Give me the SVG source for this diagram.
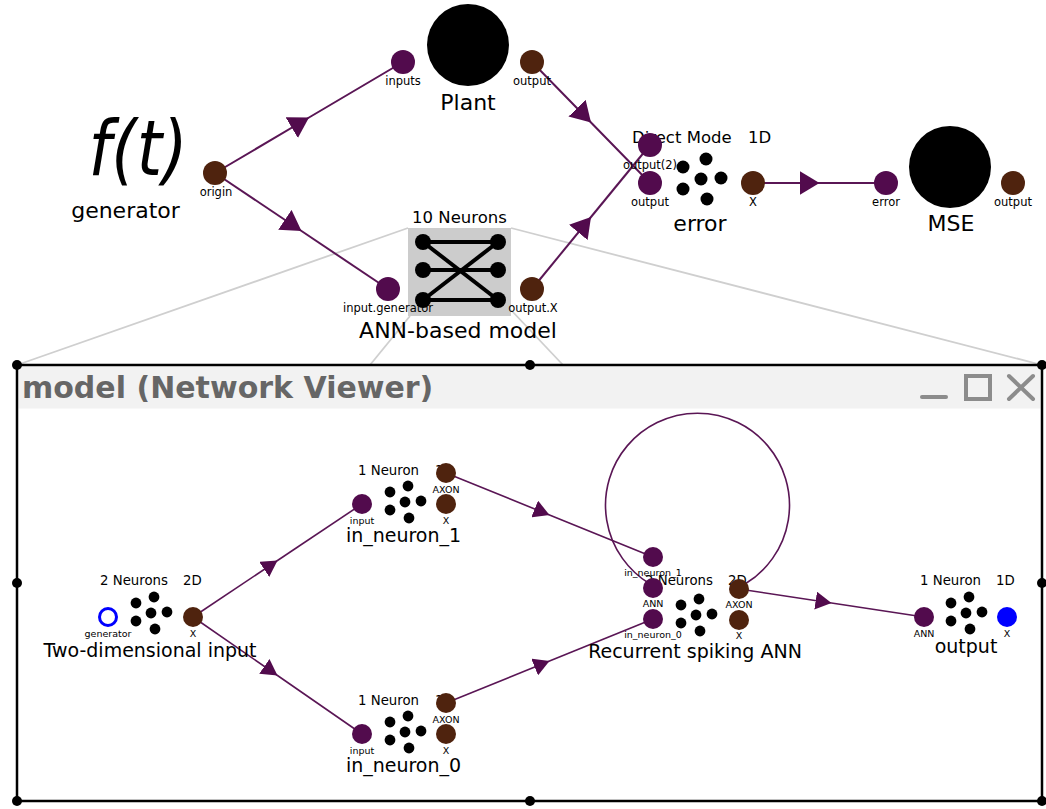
<svg xmlns="http://www.w3.org/2000/svg" xmlns:xlink="http://www.w3.org/1999/xlink" width="1046" height="809" viewBox="0 0 1046 809">
  <style>
    text { font-family: "DejaVu Sans", "Liberation Sans", sans-serif; fill: #000; }
    .pin { fill: #520b4d; }
    .pout { fill: #4f230e; }
    .plbl { font-size: 11.5px; text-anchor: middle; }
    .vplbl { font-size: 9.5px; text-anchor: middle; }
    .name { font-size: 22px; text-anchor: middle; }
    .hdr { font-size: 16.5px; }
    .vname { font-size: 19px; text-anchor: middle; }
    .vhdr { font-size: 13.3px; }
    .conn { stroke: #5a1655; stroke-width: 2; fill: none; marker-mid: url(#arr); }
    .vconn { stroke: #5a1655; stroke-width: 1.6; fill: none; marker-mid: url(#varr); }
    .loop { stroke: #5a1655; stroke-width: 1.6; fill: none; }
    .proj { stroke: #cfcfcf; stroke-width: 1.8; fill: none; }
    .handle { fill: #000; }
    .icon { stroke: #8c8c8c; stroke-width: 4; fill: none; stroke-linecap: round; }
  </style>
  <defs>
    <marker id="arr" markerUnits="userSpaceOnUse" markerWidth="20" markerHeight="24" viewBox="0 0 20 24" refX="20" refY="12" orient="auto">
      <path d="M0,0 L20,12 L0,24 z" fill="#520b4d"/>
    </marker>
    <marker id="varr" markerUnits="userSpaceOnUse" markerWidth="16" markerHeight="18" viewBox="0 0 16 18" refX="16" refY="9" orient="auto">
      <path d="M0,0 L16,9 L0,18 z" fill="#520b4d"/>
    </marker>
    <!-- neuron ensemble glyph, large and small -->
    <g id="dots">
      <circle cx="-18" cy="-12" r="6.5"/>
      <circle cx="5" cy="-20" r="6.5"/>
      <circle cx="0" cy="0" r="6.5"/>
      <circle cx="20" cy="-1" r="6.5"/>
      <circle cx="-18" cy="10" r="6.5"/>
      <circle cx="6" cy="20" r="6.5"/>
    </g>
    <g id="vdots">
      <circle cx="-15" cy="-10" r="5.4"/>
      <circle cx="3" cy="-16" r="5.4"/>
      <circle cx="0" cy="0" r="5.4"/>
      <circle cx="16" cy="-1" r="5.4"/>
      <circle cx="-15" cy="8" r="5.4"/>
      <circle cx="4" cy="16" r="5.4"/>
    </g>
  </defs>

  <!-- zoom projection lines from the model node to the viewer -->
  <g id="projection">
    <line class="proj" x1="408" y1="228" x2="17" y2="365"/>
    <line class="proj" x1="511" y1="228" x2="1042" y2="365"/>
    <line class="proj" x1="410" y1="316" x2="370" y2="365"/>
    <line class="proj" x1="511" y1="310" x2="563" y2="365"/>
  </g>

  <!-- connectors -->
  <g id="connectors">
    <path class="conn" d="M215,173 L309,117.5 L403,62"/>
    <path class="conn" d="M215,173 L301.5,231 L388,289"/>
    <path class="conn" d="M532,62 L591,122.5 L650,183"/>
    <path class="conn" d="M532,289 L591,217 L650,145"/>
    <path class="conn" d="M753,183 L819.5,183 L886,183"/>

    <path class="vconn" d="M193,617 L277.5,560.5 L362,504"/>
    <path class="vconn" d="M193,617 L277.5,675.5 L362,734"/>
    <path class="vconn" d="M446,473 L549.5,515 L653,557"/>
    <path class="vconn" d="M446,703 L549.5,661 L653,619"/>
    <path class="vconn" d="M739,589 L831.5,603 L924,617"/>
    <path class="loop" d="M745,584 A92,92 0 1 0 650,584"/>
  </g>

  <g id="generator">
    <text x="138" y="175" font-size="76" font-style="italic" text-anchor="middle" textLength="99" lengthAdjust="spacingAndGlyphs">f(t)</text>
    <text class="name" x="125.5" y="218" font-size="23">generator</text>
    <circle class="pout" cx="215" cy="173" r="12"/>
    <text class="plbl" x="216" y="196">origin</text>
  </g>

  <g id="plant">
    <circle cx="468" cy="45" r="41" fill="#000"/>
    <text class="name" x="468" y="110" font-size="23">Plant</text>
    <text class="plbl" x="403" y="85">inputs</text>
    <text class="plbl" x="532" y="85">output</text>
    <circle class="pin" cx="403" cy="62" r="12"/>
    <circle class="pout" cx="532" cy="62" r="12"/>
  </g>

  <g id="ann-model">
    <rect x="408" y="228" width="103" height="88" fill="#cccccc"/>
    <g stroke="#000" stroke-width="4">
      <line x1="423" y1="242" x2="498" y2="242"/>
      <line x1="423" y1="270" x2="498" y2="270"/>
      <line x1="423" y1="300" x2="498" y2="300"/>
      <line x1="423" y1="242" x2="498" y2="300"/>
      <line x1="423" y1="300" x2="498" y2="242"/>
    </g>
    <g fill="#000">
      <circle cx="423" cy="242" r="8"/>
      <circle cx="498" cy="242" r="8"/>
      <circle cx="423" cy="270" r="8"/>
      <circle cx="498" cy="270" r="8"/>
      <circle cx="423" cy="300" r="8"/>
      <circle cx="498" cy="300" r="8"/>
    </g>
    <text class="hdr" x="459.5" y="223" text-anchor="middle">10 Neurons</text>
    <text class="name" x="458" y="338">ANN-based model</text>
    <text class="plbl" x="388" y="312">input.generator</text>
    <text class="plbl" x="533" y="312">output.X</text>
    <circle class="pin" cx="388" cy="289" r="12"/>
    <circle class="pout" cx="532" cy="289" r="12"/>
  </g>

  <g id="error">
    <text class="hdr" x="632" y="143">Direct Mode</text>
    <text class="hdr" x="748" y="143">1D</text>
    <use href="#dots" x="701" y="179"/>
    <text class="name" x="700" y="231">error</text>
    <text class="plbl" x="650" y="169">output(2)</text>
    <text class="plbl" x="650" y="206">output</text>
    <text class="plbl" x="753" y="206">X</text>
    <circle class="pin" cx="650" cy="145" r="12"/>
    <circle class="pin" cx="650" cy="183" r="12"/>
    <circle class="pout" cx="753" cy="183" r="12"/>
  </g>

  <g id="mse">
    <circle cx="950" cy="167" r="41" fill="#000"/>
    <text class="name" x="951" y="231">MSE</text>
    <text class="plbl" x="886" y="206">error</text>
    <text class="plbl" x="1013" y="206">output</text>
    <circle class="pin" cx="886" cy="183" r="12"/>
    <circle class="pout" cx="1013" cy="183" r="12"/>
  </g>

  <!-- network viewer window -->
  <g id="viewer">
    <rect x="18.5" y="366.5" width="1022" height="42" fill="#f2f2f2"/>
    <rect x="17" y="365" width="1025" height="436" fill="none" stroke="#000" stroke-width="2.5"/>
    <text x="22" y="398" font-size="30" font-weight="bold" style="fill:#666666">model (Network Viewer)</text>
    <line class="icon" x1="922" y1="397" x2="946" y2="397"/>
    <rect class="icon" x="966" y="376" width="24" height="23"/>
    <line class="icon" x1="1009" y1="376" x2="1033" y2="399"/>
    <line class="icon" x1="1033" y1="376" x2="1009" y2="399"/>
    <circle class="handle" cx="17" cy="365" r="5"/>
    <circle class="handle" cx="530" cy="365" r="5"/>
    <circle class="handle" cx="1042" cy="365" r="5"/>
    <circle class="handle" cx="17" cy="583" r="5"/>
    <circle class="handle" cx="1042" cy="583" r="5"/>
    <circle class="handle" cx="17" cy="801" r="5"/>
    <circle class="handle" cx="530" cy="801" r="5"/>
    <circle class="handle" cx="1042" cy="801" r="5"/>
  </g>

  <g id="two-dimensional-input">
    <text class="vhdr" x="100" y="585">2 Neurons</text>
    <text class="vhdr" x="183" y="585">2D</text>
    <use href="#vdots" x="151" y="613"/>
    <text class="vname" x="150" y="657">Two-dimensional input</text>
    <text class="vplbl" x="108" y="637">generator</text>
    <text class="vplbl" x="193" y="637">X</text>
    <circle cx="108" cy="617" r="8.5" fill="#fff" stroke="#0000ff" stroke-width="3"/>
    <circle class="pout" cx="193" cy="617" r="10"/>
  </g>

  <g id="in_neuron_1">
    <text class="vhdr" x="358" y="475">1 Neuron</text>
    <text class="vhdr" x="435" y="475">1D</text>
    <use href="#vdots" x="405" y="502"/>
    <text class="vname" x="403.5" y="542">in_neuron_1</text>
    <text class="vplbl" x="362" y="524">input</text>
    <text class="vplbl" x="446" y="493">AXON</text>
    <text class="vplbl" x="446" y="524">X</text>
    <circle class="pin" cx="362" cy="504" r="10"/>
    <circle class="pout" cx="446" cy="473" r="10"/>
    <circle class="pout" cx="446" cy="504" r="10"/>
  </g>

  <g id="in_neuron_0">
    <text class="vhdr" x="358" y="705">1 Neuron</text>
    <text class="vhdr" x="435" y="705">1D</text>
    <use href="#vdots" x="405" y="732"/>
    <text class="vname" x="403.5" y="772">in_neuron_0</text>
    <text class="vplbl" x="362" y="754">input</text>
    <text class="vplbl" x="446" y="723">AXON</text>
    <text class="vplbl" x="446" y="754">X</text>
    <circle class="pin" cx="362" cy="734" r="10"/>
    <circle class="pout" cx="446" cy="703" r="10"/>
    <circle class="pout" cx="446" cy="734" r="10"/>
  </g>

  <g id="recurrent-spiking-ann">
    <text class="vplbl" x="653" y="576">in_neuron_1</text>
    <text class="vhdr" x="645" y="585">2 Neurons</text>
    <text class="vhdr" x="728" y="585">2D</text>
    <use href="#vdots" x="696" y="615"/>
    <text class="vname" x="695" y="658">Recurrent spiking ANN</text>
    <text class="vplbl" x="653" y="607">ANN</text>
    <text class="vplbl" x="653" y="638">in_neuron_0</text>
    <text class="vplbl" x="739" y="608">AXON</text>
    <text class="vplbl" x="739" y="639">X</text>
    <circle class="pin" cx="653" cy="557" r="10"/>
    <circle class="pin" cx="653" cy="588" r="10"/>
    <circle class="pin" cx="653" cy="619" r="10"/>
    <circle class="pout" cx="739" cy="589" r="10"/>
    <circle class="pout" cx="739" cy="620" r="10"/>
  </g>

  <g id="output">
    <text class="vhdr" x="920" y="585">1 Neuron</text>
    <text class="vhdr" x="996" y="585">1D</text>
    <use href="#vdots" x="966" y="613"/>
    <text class="vname" x="966" y="653">output</text>
    <text class="vplbl" x="924" y="637">ANN</text>
    <text class="vplbl" x="1007" y="637">X</text>
    <circle class="pin" cx="924" cy="617" r="10"/>
    <circle cx="1007" cy="617" r="10" fill="#0000ff"/>
  </g>
</svg>
